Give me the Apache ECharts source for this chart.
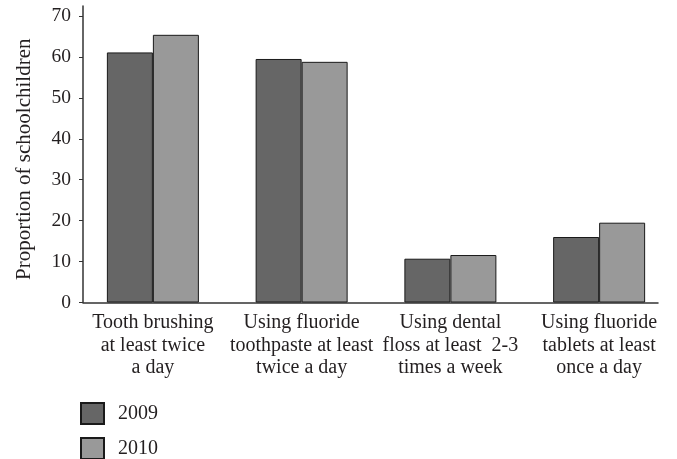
<!DOCTYPE html>
<html>
<head>
<meta charset="utf-8">
<script src="https://cdn.jsdelivr.net/npm/echarts@6/dist/echarts.min.js"></script>
<style>html,body{margin:0;padding:0;background:#fff}#c{width:677px;height:459px}</style>
</head>
<body>
<div id="c"></div>
<script>
const categories = [
  "Tooth brushing\nat least twice\na day",
  "Using fluoride\ntoothpaste at least\ntwice a day",
  "Using dental\nfloss at least  2-3\ntimes a week",
  "Using fluoride\ntablets at least\nonce a day"
];
const values2009 = [61.1, 59.5, 10.7, 16.0];
const values2010 = [65.4, 58.8, 11.6, 19.5];
const seriesNames = ["2009", "2010"];
const yTicks = { min: 0, max: 70, interval: 10 };

const FONT = "Liberation Serif";
const TXT = '#231f20';
const chart = echarts.init(document.getElementById('c'), null, {renderer: 'canvas'});
chart.setOption({
  animation: false,
  backgroundColor: '#fff',
  textStyle: { fontFamily: FONT },
  grid: [
    { left: 78.5, right: 3.5, top: 16, bottom: 156.5 },
    { left: 83, right: 19, top: 6, bottom: 156.5 }
  ],
  legend: {
    orient: 'vertical', left: 80, top: 400, height: 60,
    icon: 'rect',
    itemWidth: 23, itemHeight: 21, itemGap: 12, padding: [2, 5, 0, 0],
    textStyle: { fontFamily: FONT, fontSize: 20, color: TXT, padding: [0, 0, 0, 9] },
    data: seriesNames
  },
  xAxis: [
    {
      type: 'category', gridIndex: 0, data: categories,
      axisLine: { show: false }, axisTick: { show: false },
      axisLabel: { interval: 0, fontFamily: FONT, fontSize: 20, lineHeight: 22.5, color: TXT, margin: 9, align: 'center' }
    },
    {
      type: 'value', gridIndex: 1, min: 0, max: 1,
      axisLine: { show: true, onZero: false, lineStyle: { color: '#333', width: 1.5 } },
      axisTick: { show: false }, axisLabel: { show: false }, splitLine: { show: false }
    }
  ],
  yAxis: [
    {
      type: 'value', gridIndex: 0, min: yTicks.min, max: yTicks.max, interval: yTicks.interval,
      offset: -4.5,
      name: 'Proportion of schoolchildren', nameLocation: 'middle', nameGap: 48, nameRotate: 90,
      nameTextStyle: { fontFamily: FONT, fontSize: 21, color: TXT },
      axisLine: { show: false },
      axisTick: { show: true, length: 4, lineStyle: { color: '#333' } },
      axisLabel: { fontFamily: FONT, fontSize: 19.5, color: TXT, margin: 12 },
      splitLine: { show: false }
    },
    {
      type: 'value', gridIndex: 1, min: 0, max: 1,
      axisLine: { show: true, onZero: false, lineStyle: { color: '#333', width: 1.5 } },
      axisTick: { show: false }, axisLabel: { show: false }, splitLine: { show: false }
    }
  ],
  series: [
    {
      name: seriesNames[0], type: 'bar', xAxisIndex: 0, yAxisIndex: 0,
      data: values2009, barWidth: 46, barGap: '0%',
      itemStyle: { color: '#666666', borderColor: '#1a1a1a', borderWidth: 1 }
    },
    {
      name: seriesNames[1], type: 'bar', xAxisIndex: 0, yAxisIndex: 0,
      data: values2010, barWidth: 46, barGap: '0%',
      itemStyle: { color: '#999999', borderColor: '#1a1a1a', borderWidth: 1 }
    }
  ]
});
</script>
</body>
</html>
